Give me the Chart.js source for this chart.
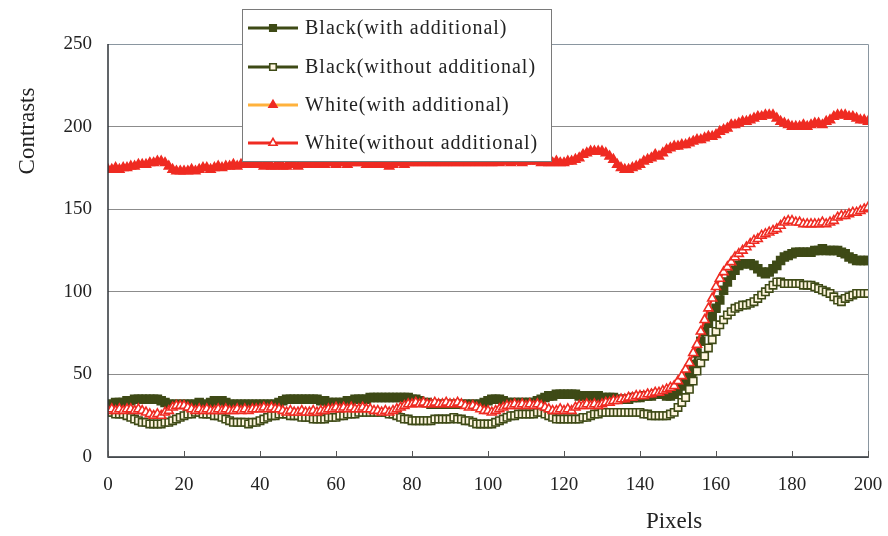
<!DOCTYPE html>
<html>
<head>
<meta charset="utf-8">
<script src="https://cdn.jsdelivr.net/npm/chart.js@4.4.1/dist/chart.umd.min.js"></script>
<style>
  html, body { margin: 0; padding: 0; background: #fff; }
</style>
</head>
<body>
<canvas id="chart" width="888" height="536"></canvas>
<script>
"use strict";
// pixel positions 0..200 along the scan line
const pixels = Array.from({ length: 201 }, (_, i) => i);
const xTicks = [0, 20, 40, 60, 80, 100, 120, 140, 160, 180, 200];
const yTicks = [0, 50, 100, 150, 200, 250];

const blackWith = [
    32, 32, 33, 33, 33, 34, 34, 35, 35, 35, 35, 35, 35, 35, 34, 33, 32, 32, 32, 32,
    32, 32, 32, 32, 33, 32, 32, 33, 34, 34, 34, 33, 32, 32, 32, 32, 32, 32, 32, 32,
    32, 32, 32, 32, 32, 33, 34, 35, 35, 35, 35, 35, 35, 35, 35, 35, 34, 34, 33, 33,
    33, 33, 33, 34, 34, 35, 35, 35, 35, 36, 36, 36, 36, 36, 36, 36, 36, 36, 36, 36,
    35, 35, 34, 33, 33, 32, 32, 32, 32, 32, 32, 32, 32, 32, 32, 32, 32, 32, 32, 33,
    34, 35, 35, 35, 34, 33, 33, 33, 33, 33, 33, 33, 33, 34, 35, 36, 37, 37, 38, 38,
    38, 38, 38, 38, 37, 37, 37, 37, 37, 37, 36, 36, 36, 36, 35, 35, 35, 35, 36, 36,
    36, 37, 37, 37, 38, 38, 38, 37, 37, 38, 40, 43, 46, 51, 56, 63, 70, 76, 81, 85,
    90, 95, 101, 106, 110, 113, 116, 117, 117, 117, 116, 114, 112, 111, 112, 114, 116, 119, 121, 122,
    123, 124, 124, 124, 124, 124, 125, 125, 126, 125, 125, 125, 125, 124, 123, 121, 120, 119, 119, 119,
    119
];
const blackWithout = [
    27, 27, 26, 26, 26, 25, 24, 23, 22, 21, 21, 20, 20, 20, 20, 21, 21, 22, 23, 24,
    25, 26, 26, 27, 27, 26, 26, 26, 25, 25, 24, 23, 22, 21, 21, 21, 21, 20, 21, 21,
    22, 23, 24, 25, 25, 26, 26, 26, 25, 25, 25, 24, 24, 24, 23, 23, 23, 23, 24, 24,
    24, 25, 25, 26, 26, 26, 27, 27, 27, 27, 27, 27, 27, 27, 26, 26, 25, 24, 23, 23,
    22, 22, 22, 22, 22, 22, 23, 23, 23, 23, 23, 24, 23, 23, 22, 22, 21, 20, 20, 20,
    20, 20, 21, 22, 23, 24, 25, 25, 26, 26, 26, 26, 26, 27, 27, 26, 25, 24, 23, 23,
    23, 23, 23, 23, 23, 24, 24, 25, 26, 26, 27, 27, 27, 27, 27, 27, 27, 27, 27, 27,
    27, 26, 26, 25, 25, 25, 25, 25, 26, 27, 30, 33, 36, 41, 46, 52, 57, 61, 66, 71,
    76, 80, 83, 86, 88, 90, 91, 92, 92, 93, 94, 96, 98, 100, 102, 104, 106, 106, 105, 105,
    105, 105, 105, 104, 104, 104, 103, 102, 101, 100, 99, 97, 95, 94, 96, 97, 98, 99, 99, 99,
    99
];
const whiteWith = [
    174, 174, 175, 174, 175, 175, 176, 176, 177, 177, 177, 178, 178, 179, 179, 178, 176, 174, 173, 173,
    173, 173, 174, 173, 174, 175, 175, 174, 175, 176, 175, 176, 176, 177, 176, 177, 177, 177, 178, 177,
    177, 176, 177, 176, 176, 177, 176, 176, 177, 177, 176, 177, 177, 178, 177, 177, 178, 177, 178, 178,
    177, 178, 178, 177, 178, 178, 179, 178, 177, 178, 177, 177, 178, 177, 176, 177, 178, 178, 177, 178,
    178, 179, 178, 178, 179, 178, 178, 179, 178, 178, 179, 178, 178, 179, 178, 178, 179, 178, 178, 179,
    178, 178, 179, 178, 179, 179, 178, 179, 179, 178, 179, 179, 180, 179, 178, 179, 178, 178, 179, 178,
    178, 179, 179, 180, 181, 183, 184, 185, 185, 185, 185, 184, 182, 180, 177, 175, 174, 174, 175, 176,
    177, 179, 180, 181, 183, 182, 184, 186, 187, 188, 188, 189, 189, 190, 191, 192, 192, 193, 194, 194,
    195, 197, 198, 199, 201, 201, 202, 203, 203, 204, 205, 206, 206, 207, 207, 207, 205, 203, 202, 201,
    200, 200, 200, 201, 200, 201, 202, 202, 201, 203, 204, 206, 207, 207, 207, 206, 206, 205, 204, 204,
    203
];
const whiteWithout = [
    28, 29, 28, 29, 28, 29, 29, 28, 29, 28, 27, 26, 25, 26, 25, 27, 28, 30, 31, 31,
    31, 30, 29, 28, 29, 28, 29, 28, 28, 29, 28, 29, 28, 28, 29, 28, 29, 28, 29, 29,
    29, 30, 29, 30, 29, 29, 28, 27, 28, 27, 27, 28, 27, 27, 28, 27, 28, 28, 29, 29,
    30, 29, 30, 29, 30, 29, 29, 30, 29, 29, 28, 28, 27, 28, 27, 28, 29, 30, 31, 32,
    32, 33, 32, 33, 32, 32, 33, 32, 32, 33, 32, 32, 33, 32, 31, 30, 31, 30, 29, 28,
    28, 27, 28, 29, 30, 31, 31, 32, 31, 32, 31, 32, 31, 32, 31, 30, 29, 28, 28, 29,
    28, 29, 28, 30, 31, 31, 32, 31, 32, 31, 32, 33, 33, 34, 34, 35, 35, 36, 36, 37,
    37, 37, 38, 38, 39, 39, 40, 41, 42, 43, 46, 49, 53, 57, 63, 68, 76, 83, 90, 96,
    103, 108, 112, 115, 118, 121, 123, 125, 127, 129, 131, 132, 134, 135, 136, 137, 138, 140, 142, 143,
    143, 142, 142, 141, 141, 141, 141, 141, 142, 141, 142, 143, 145, 146, 146, 147, 148, 148, 149, 150,
    151
];

const seriesNames = ["Black(with additional)", "Black(without additional)", "White(with additional)", "White(without additional)"];

const OLIVE = "#3e4a16";
const RED = "#ef2b22";
const ORANGE = "#ffb23c";
const SERIF = "'Liberation Serif', 'DejaVu Serif', serif";

const styles = [
    { line: OLIVE, border: OLIVE, fill: OLIVE, shape: "rect", radius: 5.6 },
    { line: OLIVE, border: OLIVE, fill: "#fff6e0", shape: "rect", radius: 5.2 },
    { line: ORANGE, border: RED, fill: RED, shape: "triangle", radius: 5.2 },
    { line: RED, border: RED, fill: "#ffffff", shape: "triangle", radius: 5.2 }
];

function drawMarker(ctx, s, x, y, r) {
    ctx.save();
    ctx.fillStyle = s.fill;
    ctx.strokeStyle = s.border;
    ctx.lineWidth = 1.6;
    ctx.beginPath();
    if (s.shape === "rect") {
        const h = r * Math.SQRT1_2;
        ctx.rect(x - h, y - h, 2 * h, 2 * h);
    } else {
        ctx.moveTo(x, y - r);
        ctx.lineTo(x + r * 0.87, y + r * 0.5);
        ctx.lineTo(x - r * 0.87, y + r * 0.5);
        ctx.closePath();
    }
    ctx.fill();
    ctx.stroke();
    ctx.restore();
}

// frame, inward x ticks, axis titles and the boxed legend
const decorPlugin = {
    id: "decor",
    afterDraw(chart) {
        const ctx = chart.ctx;
        const a = chart.chartArea;
        const xs = chart.scales.x;
        ctx.save();
        ctx.lineWidth = 1;
        ctx.strokeStyle = "#8a96a0";
        ctx.beginPath();
        ctx.moveTo(a.left, a.top + 0.5);
        ctx.lineTo(a.right + 0.5, a.top + 0.5);
        ctx.lineTo(a.right + 0.5, a.bottom);
        ctx.stroke();
        ctx.strokeStyle = "#2e3338";
        ctx.lineWidth = 1.5;
        ctx.beginPath();
        ctx.moveTo(a.left, a.top);
        ctx.lineTo(a.left, a.bottom);
        ctx.lineTo(a.right + 1, a.bottom);
        ctx.stroke();
        ctx.lineWidth = 1;
        ctx.strokeStyle = "#555";
        xTicks.forEach((t) => {
            const px = Math.round(xs.getPixelForValue(t)) + 0.5;
            ctx.beginPath();
            ctx.moveTo(px, a.bottom);
            ctx.lineTo(px, a.bottom - 6);
            ctx.stroke();
        });

        ctx.fillStyle = "#222";
        ctx.font = "23px " + SERIF;
        ctx.textAlign = "center";
        ctx.textBaseline = "middle";
        ctx.fillText("Pixels", 674, 522);
        ctx.save();
        ctx.translate(28, 131);
        ctx.rotate(-Math.PI / 2);
        ctx.fillText("Contrasts", 0, 0);
        ctx.restore();

        // legend box
        const bx = 242, by = 9, bw = 309, bh = 152;
        ctx.fillStyle = "#fff";
        ctx.fillRect(bx, by, bw, bh);
        ctx.strokeStyle = "#7a7a7a";
        ctx.lineWidth = 1;
        ctx.strokeRect(bx + 0.5, by + 0.5, bw, bh);
        const rows = [28, 67, 105, 143];
        ctx.font = "20px " + SERIF;
        ctx.letterSpacing = "1px";
        ctx.textAlign = "left";
        rows.forEach((ry, i) => {
            const s = styles[i];
            ctx.strokeStyle = s.line;
            ctx.lineWidth = 3;
            ctx.beginPath();
            ctx.moveTo(248, ry);
            ctx.lineTo(298, ry);
            ctx.stroke();
            drawMarker(ctx, s, 273, ry, 4.6);
            ctx.fillStyle = "#222";
            ctx.fillText(seriesNames[i], 305, ry + 1);
        });
        ctx.restore();
    }
};

const seriesValues = [blackWith, blackWithout, whiteWith, whiteWithout];
const drawOrder = [4, 3, 2, 1];

new Chart(document.getElementById("chart"), {
    type: "line",
    data: {
        labels: pixels,
        datasets: seriesValues.map((vals, i) => ({
            label: seriesNames[i],
            data: vals,
            order: drawOrder[i],
            borderColor: styles[i].line,
            borderWidth: 2.5,
            pointStyle: styles[i].shape,
            pointRadius: styles[i].radius,
            pointBackgroundColor: styles[i].fill,
            pointBorderColor: styles[i].border,
            pointBorderWidth: 1.6,
            tension: 0,
            fill: false
        }))
    },
    options: {
        responsive: false,
        animation: false,
        layout: { padding: { left: 0, right: 20, top: 44, bottom: 0 } },
        plugins: {
            legend: { display: false },
            tooltip: { enabled: false }
        },
        scales: {
            x: {
                type: "linear",
                min: 0,
                max: 200,
                afterFit(scale) {
                    scale.height = 79;
                    scale.paddingLeft = 0;
                    scale.paddingRight = 0;
                },
                afterBuildTicks(scale) { scale.ticks = xTicks.map((v) => ({ value: v })); },
                grid: { display: false },
                border: { display: false },
                ticks: {
                    padding: 9,
                    color: "#222",
                    font: { family: SERIF, size: 19 },
                    maxRotation: 0
                }
            },
            y: {
                min: 0,
                max: 250,
                afterFit(scale) {
                    scale.width = 108;
                    scale.paddingTop = 0;
                    scale.paddingBottom = 0;
                },
                afterBuildTicks(scale) { scale.ticks = yTicks.map((v) => ({ value: v })); },
                grid: { color: "#8c8c8c", lineWidth: 1, drawTicks: false },
                border: { display: false },
                ticks: {
                    padding: 16,
                    color: "#222",
                    font: { family: SERIF, size: 19 }
                }
            }
        }
    },
    plugins: [decorPlugin]
});
</script>
</body>
</html>
